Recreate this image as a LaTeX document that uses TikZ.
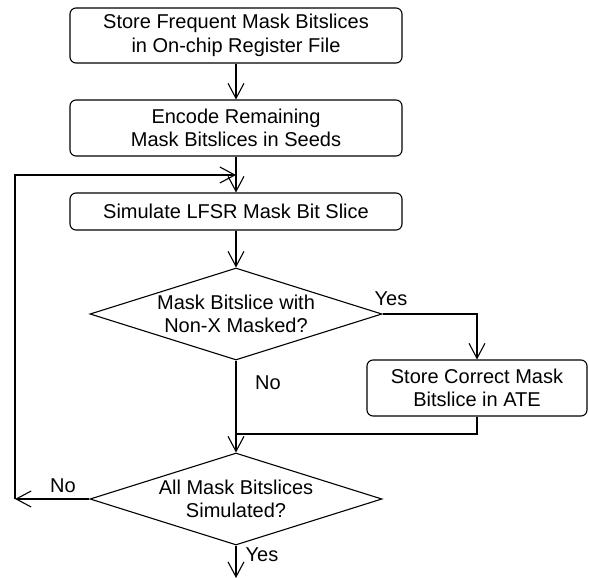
\documentclass[tikz,border=0pt]{standalone}
\usepackage{fontspec}
\setmainfont{Liberation Sans}
\usetikzlibrary{shapes.geometric,arrows.meta}
\begin{document}
\begin{tikzpicture}[x=1pt,y=-1pt, line width=1.1pt,
  txt/.style={font=\fontsize{20}{23.5}\selectfont},
  proc/.style={txt, draw, rounded corners=6pt, minimum width=332pt, align=center, inner sep=0pt},
  dec/.style={txt, draw, diamond, aspect=3.17, inner sep=-12pt, minimum width=292pt, minimum height=92pt, align=center},
  arr/.style={-{Straight Barb[length=15pt,width=16pt,line width=1.1pt]}},
  lab/.style={txt, inner sep=0pt}]
\useasboundingbox (0,0) rectangle (589,578);
\node[proc, minimum height=55pt] (b1) at (236,35.5) {Store Frequent Mask Bitslices\\in On-chip Register File};
\node[proc, minimum height=56pt] (b2) at (236,128) {Encode Remaining\\Mask Bitslices in Seeds};
\node[proc, minimum height=37pt] (b3) at (236,211.5) {Simulate LFSR Mask Bit Slice};
\node[dec] (d1) at (236,314) {Mask Bitslice with\\Non-X Masked?};
\node[proc, minimum width=220pt, minimum height=56pt] (b4) at (477,388) {Store Correct Mask\\Bitslice in ATE};
\node[dec] (d2) at (236,499) {All Mask Bitslices\\Simulated?};
\coordinate (m) at (236,434);
\coordinate (loop) at (236,175);
\coordinate (lx) at (15,499);
\coordinate (end) at (236,578);
\node[lab] (y1) at (391,299) {Yes};
\node[lab] (n1) at (268,383) {No};
\node[lab] (n2) at (63,486) {No};
\node[lab] (y2) at (262,555) {Yes};
\draw[arr] (b1) -- (b2);
\draw[arr] (b2) -- (b3);
\draw[arr] (b3) -- (d1);
\draw[arr] (d1.east) -| (b4.north);
\draw (b4.south) |- (m);
\draw[arr] (d1.south) -- (d2.north);
\draw[arr] (d2.west) -- (lx);
\draw[arr] (lx) |- (loop);
\draw[arr] (d2.south) -- (end);
\end{tikzpicture}
\end{document}
